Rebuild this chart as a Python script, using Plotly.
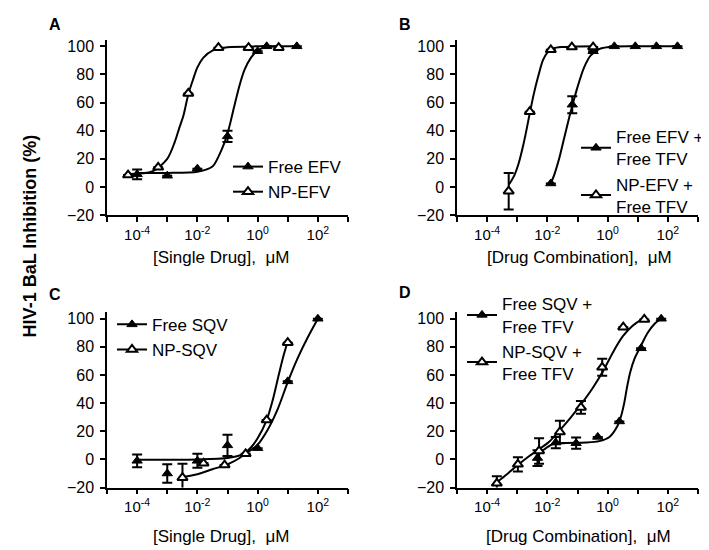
import plotly.graph_objects as go

# ---------------- data ----------------
# Panel A
A_free_x = [1e-4, 1e-3, 1e-2, 0.1, 1, 2, 20]
A_free_y = [9, 8, 13, 36, 96.5, 100, 100]
A_free_err = [3.5, 0, 0, 4, 0, 0, 0]
A_np_x = [5e-5, 5e-4, 5e-3, 0.05, 0.5, 5]
A_np_y = [8.5, 14, 66.5, 99, 99, 99]
A_np_err = [0, 0, 0, 0, 0, 0]
A_free_fit_logx = [-4, -3, -2, -1.5, -1.28, -1.11, -1.0, -0.89, -0.78, -0.61, -0.44, -0.22, 0, 0.3, 1.3]
A_free_fit_y = [10, 10, 10.8, 14.5, 22.5, 31, 38, 47, 57, 71.5, 83, 92, 97, 99.5, 100]
A_np_fit_logx = [-4.3, -3.5, -3.0, -2.75, -2.6, -2.46, -2.3, -2.15, -2.0, -1.8, -1.5, -1.0, 0, 0.7]
A_np_fit_y = [9.2, 11, 20, 32, 42, 51, 66, 76, 85, 92, 97, 99.3, 100, 100]

# Panel B
B_free_x = [0.013, 0.067, 0.33, 1.67, 8.3, 41.7, 208]
B_free_y = [2.5, 58.5, 96.5, 100, 100, 100, 100]
B_free_err = [0, 6, 0, 0, 0, 0, 0]
B_np_x = [5.2e-4, 2.6e-3, 0.013, 0.065, 0.33]
B_np_y = [-3, 53.5, 97.5, 99.5, 99.5]
B_np_err = [13, 0, 0, 0, 0]
B_free_fit_logx = [-1.89, -1.75, -1.61, -1.44, -1.28, -1.17, -1.0, -0.78, -0.56, -0.28, 0.22, 1.0, 2.33]
B_free_fit_y = [2, 10, 20, 35, 49, 58, 71, 85, 93.5, 98, 99.8, 100, 100]
B_np_fit_logx = [-3.28, -3.1, -2.95, -2.8, -2.7, -2.58, -2.45, -2.3, -2.15, -2.0, -1.8, -1.5, -1.2, -0.47]
B_np_fit_y = [1.6, 8.1, 17, 29.8, 39.9, 52.9, 66.2, 79, 90, 95.5, 98.5, 99.5, 99.8, 100]

# Panel C
C_free_x = [1e-4, 1e-3, 1e-2, 0.1, 1, 10, 100]
C_free_y = [-1, -10, -1, 10, 8, 55.5, 100]
C_free_err = [4.5, 6.5, 5, 7.5, 0, 0, 0]
C_np_x = [0.0032, 0.016, 0.08, 0.4, 2, 10]
C_np_y = [-13, -2.8, -4, 4, 28, 83]
C_np_err = [10, 0, 0, 0, 0, 0]
C_free_fit_logx = [-4, -3, -2, -1, -0.5, -0.2, 0, 0.33, 0.67, 1.0, 1.33, 1.67, 2.0]
C_free_fit_y = [-0.3, -0.2, 0, 1, 3.5, 7, 10.5, 21, 36, 55, 72, 87, 100]
C_np_fit_logx = [-2.5, -2.0, -1.5, -1.0, -0.6, -0.39, -0.2, 0, 0.3, 0.5, 0.7, 0.85, 1.0]
C_np_fit_y = [-12.5, -10.5, -7, -3.5, 1, 4.9, 9, 15, 28, 42, 60, 73, 84]

# Panel D
D_free_x = [0.0047, 0.019, 0.09, 0.47, 2.45, 12.9, 60]
D_free_y = [1, 12, 11.5, 16, 27, 79, 100]
D_free_err = [5.6, 4, 4, 0, 0, 0, 0]
D_np_x = [2.1e-4, 1.05e-3, 5.3e-3, 0.026, 0.13, 0.66, 3.3, 16.5]
D_np_y = [-17, -3.5, 6, 19.5, 37, 65.5, 94, 99.5]
D_np_err = [5, 5, 9, 8, 4.6, 6, 0, 0]
D_free_fit_logx = [-2.37, -2.11, -1.83, -1.39, -0.72, -0.28, 0.06, 0.33, 0.45, 0.55, 0.65, 0.75, 0.9, 1.11, 1.33, 1.56, 1.78]
D_free_fit_y = [2, 7, 10.8, 11.7, 12, 13, 16, 24, 31, 40, 52, 62, 72, 81, 90, 96.5, 100]
D_np_fit_logx = [-3.67, -3.33, -2.98, -2.61, -2.3, -1.94, -1.59, -1.22, -0.86, -0.5, -0.14, 0.17, 0.5, 0.83, 1.1, 1.22]
D_np_fit_y = [-16, -10.3, -3.9, 2.3, 6.9, 12.6, 20.7, 29.9, 39.8, 50.6, 63.2, 75.9, 87.4, 95, 99, 100]

# tick labels
x_tick_vals = [1e-4, 1e-2, 1e0, 1e2]
x_tick_text = ["10<sup>-4</sup>", "10<sup>-2</sup>", "10<sup>0</sup>", "10<sup>2</sup>"]
x_minor_vals = [1e-5, 1e-3, 1e-1, 1e1, 1e3]
y_tick_vals = [-20, 0, 20, 40, 60, 80, 100]

panel_labels = ["A", "B", "C", "D"]
x_titles = ["[Single Drug],\u00a0 \u03bcM", "[Drug Combination],\u00a0 \u03bcM",
            "[Single Drug],\u00a0 \u03bcM", "[Drug Combination],\u00a0 \u03bcM"]
legend_names = [["Free EFV", "NP-EFV"],
                ["Free EFV +<br>Free TFV", "NP-EFV +<br>Free TFV"],
                ["Free SQV", "NP-SQV"],
                ["Free SQV +<br>Free TFV", "NP-SQV +<br>Free TFV"]]
y_title = "HIV-1 BaL Inhibition (%)"

# ---------------- figure ----------------
W, H = 709, 550
FONT = "Liberation Sans, Arial, sans-serif"
fig = go.Figure()

panels = [
    (A_free_x, A_free_y, A_free_err, A_np_x, A_np_y, A_np_err,
     A_free_fit_logx, A_free_fit_y, A_np_fit_logx, A_np_fit_y),
    (B_free_x, B_free_y, B_free_err, B_np_x, B_np_y, B_np_err,
     B_free_fit_logx, B_free_fit_y, B_np_fit_logx, B_np_fit_y),
    (C_free_x, C_free_y, C_free_err, C_np_x, C_np_y, C_np_err,
     C_free_fit_logx, C_free_fit_y, C_np_fit_logx, C_np_fit_y),
    (D_free_x, D_free_y, D_free_err, D_np_x, D_np_y, D_np_err,
     D_free_fit_logx, D_free_fit_y, D_np_fit_logx, D_np_fit_y),
]

filled_marker = dict(symbol="triangle-up", size=9, color="black", line=dict(color="black", width=1))
open_marker = dict(symbol="triangle-up", size=9, color="white", line=dict(color="black", width=2))
line_style = dict(color="black", width=2)
legend_ids = ["legend", "legend2", "legend3", "legend4"]

for i, p in enumerate(panels):
    fx, fy, fe, nx, ny, ne, ffx, ffy, nfx, nfy = p
    xa = "x" if i == 0 else f"x{i+1}"
    ya = "y" if i == 0 else f"y{i+1}"
    # fitted curves
    fig.add_trace(go.Scatter(x=[10 ** v for v in ffx], y=ffy, mode="lines",
                             line=dict(shape="spline", smoothing=0.8, **line_style),
                             xaxis=xa, yaxis=ya, showlegend=False, hoverinfo="skip"))
    fig.add_trace(go.Scatter(x=[10 ** v for v in nfx], y=nfy, mode="lines",
                             line=dict(shape="spline", smoothing=0.8, **line_style),
                             xaxis=xa, yaxis=ya, showlegend=False, hoverinfo="skip"))
    # data points
    fig.add_trace(go.Scatter(x=fx, y=fy, mode="markers", marker=filled_marker,
                             error_y=dict(type="data", array=fe, color="black", thickness=2, width=5),
                             xaxis=xa, yaxis=ya, showlegend=False))
    fig.add_trace(go.Scatter(x=nx, y=ny, mode="markers", marker=open_marker,
                             error_y=dict(type="data", array=ne, color="black", thickness=2, width=5),
                             xaxis=xa, yaxis=ya, showlegend=False))
    # legend entries
    fig.add_trace(go.Scatter(x=[None], y=[None], mode="lines+markers", marker=filled_marker,
                             line=line_style, name=legend_names[i][0], xaxis=xa, yaxis=ya,
                             legend=legend_ids[i]))
    fig.add_trace(go.Scatter(x=[None], y=[None], mode="lines+markers", marker=open_marker,
                             line=line_style, name=legend_names[i][1], xaxis=xa, yaxis=ya,
                             legend=legend_ids[i]))

x_doms = [[99 / W, 340 / W], [449 / W, 690 / W]]
y_doms = [[1 - 209.3 / H, 1 - 30.6 / H], [1 - 487.3 / H, 1 - 308.6 / H]]

axis_common = dict(showline=True, linecolor="black", linewidth=1.5, showgrid=False, zeroline=False,
                   ticks="outside", ticklen=5, tickwidth=1.5, tickcolor="black", fixedrange=True)

layout = dict(width=W, height=H, margin=dict(l=0, r=0, t=0, b=0),
              paper_bgcolor="white", plot_bgcolor="white",
              font=dict(family=FONT, color="black"))

for i in range(4):
    xs = "xaxis" if i == 0 else f"xaxis{i+1}"
    ys = "yaxis" if i == 0 else f"yaxis{i+1}"
    xa = "x" if i == 0 else f"x{i+1}"
    ya = "y" if i == 0 else f"y{i+1}"
    col, row = i % 2, i // 2
    layout[xs] = dict(type="log", range=[-5, 3], domain=x_doms[col], anchor=ya,
                      tickmode="array", tickvals=x_tick_vals, ticktext=x_tick_text,
                      minor=dict(tickmode="array", tickvals=x_minor_vals, ticks="outside",
                                 ticklen=5, tickwidth=1.5, tickcolor="black", showgrid=False),
                      tickfont=dict(size=15, family=FONT, color="black"), **axis_common)
    layout[ys] = dict(range=[-20, 104.5], domain=y_doms[row], anchor=xa,
                      tickmode="array", tickvals=y_tick_vals, ticklabelstandoff=3,
                      tickfont=dict(size=16, family=FONT, color="black"), **axis_common)

leg_pos = [(220, 173), (568, 165), (104, 334), (454, 335.5)]
for i, (lx, ly) in enumerate(leg_pos):
    layout[legend_ids[i]] = dict(x=lx / W, y=1 - ly / H, xanchor="left", yanchor="middle",
                                 bgcolor="rgba(0,0,0,0)", font=dict(size=17, family=FONT, color="black"),
                                 tracegroupgap=0, itemclick=False, itemdoubleclick=False)

fig.update_layout(**layout)

annos = []
letter_pos = [(47, 15), (397, 15), (47, 290), (397, 288)]
for i, (px, py) in enumerate(letter_pos):
    annos.append(dict(text=f"<b>{panel_labels[i]}</b>", x=px / W, y=1 - py / H, xref="paper", yref="paper",
                      showarrow=False, xanchor="center", yanchor="middle",
                      font=dict(size=16, family=FONT, color="black")))
title_pos = [(213, 253), (571, 253), (213, 537.5), (570, 537)]
for i, (px, py) in enumerate(title_pos):
    annos.append(dict(text=x_titles[i], x=px / W, y=1 - py / H, xref="paper", yref="paper",
                      showarrow=False, xanchor="center", yanchor="middle",
                      font=dict(size=17, family=FONT, color="black")))
annos.append(dict(text=f"<b>{y_title}</b>", x=22 / W, y=1 - 231 / H, xref="paper", yref="paper",
                  showarrow=False, textangle=-90, xanchor="center", yanchor="middle",
                  font=dict(size=18, family=FONT, color="black")))
fig.update_layout(annotations=annos)

fig.write_html("out.html")
